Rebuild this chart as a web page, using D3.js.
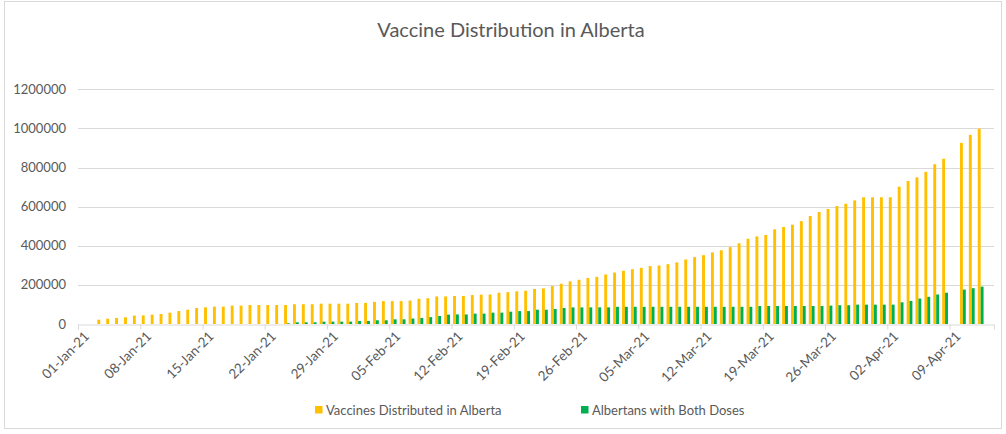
<!DOCTYPE html>
<html>
<head>
<meta charset="utf-8">
<script src="https://cdn.jsdelivr.net/npm/d3@7"></script>
<style>
  body { margin: 0; background: #fff; }
  svg { display: block; }
  text { font-family: Lato, "Open Sans", sans-serif; fill: #595959; }
</style>
</head>
<body>
<svg id="chart" width="1006" height="434"></svg>
<script>
// ---- DATA ----
const title = "Vaccine Distribution in Alberta";
const seriesNames = ["Vaccines Distributed in Alberta", "Albertans with Both Doses"];
const dates = [
  "2021-01-03","2021-01-04","2021-01-05","2021-01-06","2021-01-07","2021-01-08","2021-01-09","2021-01-10",
  "2021-01-11","2021-01-12","2021-01-13","2021-01-14","2021-01-15","2021-01-16","2021-01-17","2021-01-18",
  "2021-01-19","2021-01-20","2021-01-21","2021-01-22","2021-01-23","2021-01-24","2021-01-25","2021-01-26",
  "2021-01-27","2021-01-28","2021-01-29","2021-01-30","2021-01-31","2021-02-01","2021-02-02","2021-02-03",
  "2021-02-04","2021-02-05","2021-02-06","2021-02-07","2021-02-08","2021-02-09","2021-02-10","2021-02-11",
  "2021-02-12","2021-02-13","2021-02-14","2021-02-15","2021-02-16","2021-02-17","2021-02-18","2021-02-19",
  "2021-02-20","2021-02-21","2021-02-22","2021-02-23","2021-02-24","2021-02-25","2021-02-26","2021-02-27",
  "2021-02-28","2021-03-01","2021-03-02","2021-03-03","2021-03-04","2021-03-05","2021-03-06","2021-03-07",
  "2021-03-08","2021-03-09","2021-03-10","2021-03-11","2021-03-12","2021-03-13","2021-03-14","2021-03-15",
  "2021-03-16","2021-03-17","2021-03-18","2021-03-19","2021-03-20","2021-03-21","2021-03-22","2021-03-23",
  "2021-03-24","2021-03-25","2021-03-26","2021-03-27","2021-03-28","2021-03-29","2021-03-30","2021-03-31",
  "2021-04-01","2021-04-02","2021-04-03","2021-04-04","2021-04-05","2021-04-06","2021-04-07","2021-04-08",
  "2021-04-10","2021-04-11","2021-04-12"
];
const distributed = [
  22000,27000,31000,34000,43000,44000,48000,51000,
  58000,66000,73000,82000,85000,89000,89000,94000,
  94000,97000,97000,97000,97000,97000,101000,101000,
  101000,104000,104000,104000,104000,108000,108000,113000,
  117000,117000,117000,120000,129000,132000,141000,141000,
  143000,143000,148000,150000,151000,160000,163000,167000,
  170000,179000,182000,194000,206000,218000,226000,235000,
  241000,253000,263000,272000,280000,287000,296000,299000,
  306000,315000,330000,342000,352000,366000,377000,393000,
  413000,436000,448000,455000,484000,496000,508000,526000,
  552000,573000,588000,603000,615000,632000,648000,648000,
  648000,648000,702000,731000,750000,778000,817000,845000,
  926000,967000,999000
];
const bothDoses = [
  0,0,0,0,0,0,0,0,
  0,0,0,0,0,0,0,0,
  0,0,0,0,0,3500,8700,8700,
  8700,12000,12000,12000,12000,15600,15600,19000,
  19000,24000,24000,28000,31000,35000,41000,48000,
  49000,49000,53000,53000,58000,58000,63000,66000,
  66000,73000,73000,77000,82000,85000,85000,85000,
  85000,85000,88000,88000,88000,88000,88000,88000,
  88000,88000,88000,88000,88000,88000,88000,88000,
  88000,88000,92000,92000,92000,92000,92000,92000,
  92000,92000,94000,96000,96000,99000,99000,99000,
  99000,99000,111000,118000,130000,139000,151000,160000,
  176000,183000,191000
];
const yTicks = [0, 200000, 400000, 600000, 800000, 1000000, 1200000];
const xTickDates = ["2021-01-01","2021-01-08","2021-01-15","2021-01-22","2021-01-29","2021-02-05","2021-02-12",
  "2021-02-19","2021-02-26","2021-03-05","2021-03-12","2021-03-19","2021-03-26","2021-04-02","2021-04-09"];
const colors = ["#FFC000", "#00B050"];

// ---- CHART ----
const svg = d3.select("#chart");
const parse = d3.utcParse("%Y-%m-%d");
const fmt = d3.utcFormat("%d-%b-%y");
const plotLeft = 78, plotRight = 994, plotTop = 89.3, plotBottom = 324;

// chart border
svg.append("rect").attr("x", 4.5).attr("y", 1.5).attr("width", 997).attr("height", 427)
  .attr("fill", "none").attr("stroke", "#d9d9d9").attr("stroke-width", 1);

const x = d3.scaleUtc().domain([parse("2021-01-01"), parse("2021-04-14")]).range([plotLeft, plotRight]);
const y = d3.scaleLinear().domain([0, 1200000]).range([plotBottom, plotTop]);
const slot = x(parse("2021-01-02")) - x(parse("2021-01-01"));
const bw = 2.9;

// gridlines
svg.append("g").selectAll("line").data(yTicks.filter(d => d > 0)).join("line")
  .attr("x1", plotLeft).attr("x2", plotRight)
  .attr("y1", d => Math.round(y(d)) + 0.5).attr("y2", d => Math.round(y(d)) + 0.5)
  .attr("stroke", "#d9d9d9").attr("stroke-width", 1);

// y labels
svg.append("g").selectAll("text").data(yTicks).join("text")
  .attr("x", 66).attr("y", d => y(d)).attr("dy", "0.35em")
  .attr("text-anchor", "end").attr("font-size", "13px")
  .text(d => d);

// bars
const data = dates.map((d, i) => ({ date: parse(d), v: [distributed[i], bothDoses[i]] }));
[0, 1].forEach(s => {
  svg.append("g").selectAll("rect").data(data).join("rect")
    .attr("x", d => x(d.date) + slot / 2 - bw + s * bw)
    .attr("width", bw)
    .attr("y", d => y(d.v[s]))
    .attr("height", d => plotBottom - y(d.v[s]))
    .attr("fill", colors[s]);
});

// x axis
const xAxis = d3.axisBottom(x).tickValues(xTickDates.map(parse)).tickSize(5).tickFormat(fmt);
const gx = svg.append("g").attr("transform", `translate(0,${plotBottom + 0.5})`).call(xAxis);
gx.select(".domain").attr("stroke", "#d9d9d9");
gx.selectAll(".tick line").attr("stroke", "#d9d9d9");
gx.selectAll(".tick text")
  .attr("font-family", "Lato, 'Open Sans', sans-serif")
  .attr("font-size", "13.5px").attr("fill", "#595959")
  .attr("text-anchor", "end")
  .attr("transform", "translate(4,5) rotate(-45)")
  .attr("x", 0).attr("y", 6).attr("dy", "0.35em");

// title
svg.append("text").attr("x", 511).attr("y", 37).attr("text-anchor", "middle")
  .attr("font-size", "20px").text(title);

// legend
const legendX = [315, 581];
seriesNames.forEach((n, i) => {
  svg.append("rect").attr("x", legendX[i]).attr("y", 406).attr("width", 7.5).attr("height", 7.5).attr("fill", colors[i]);
  svg.append("text").attr("x", legendX[i] + 11).attr("y", 410).attr("dy", "0.35em")
    .attr("font-size", "13px").text(n);
});
</script>
</body>
</html>
